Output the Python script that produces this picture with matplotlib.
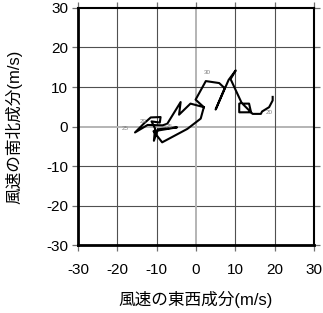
import matplotlib
matplotlib.use("Agg")
from matplotlib import pyplot as plt

plt.rcParams['font.family'] = ['Liberation Sans', 'Noto Sans CJK JP', 'DejaVu Sans']
plt.rcParams['axes.unicode_minus'] = False

# wind vector trajectory (m/s): east-west component, north-south component
u_wind = [2.0, -1.4, -4.3, -3.9, -7.3, -8.5, -12.3, -15.5, -13.2, -11.5,
          -9.0, -9.2, -11.3, -10.4, -10.7, -9.7, -4.8, -10.8, -8.6, -2.2,
          1.2, 2.0, -0.1, 2.5, 5.9, 7.3, 5.0, 8.3, 10.1, 8.8,
          11.6, 11.0, 11.0, 14.0, 13.5, 11.8, 14.4, 16.5, 16.8, 18.6,
          19.5, 19.5]
v_wind = [4.9, 5.8, 3.0, 6.2, 0.7, 0.3, 0.4, -1.5, 0.8, 2.3,
          2.4, 1.0, 1.3, -0.5, -3.6, -0.7, -0.2, -1.2, -4.0, -0.6,
          2.0, 4.9, 6.8, 11.5, 11.0, 9.7, 4.3, 11.8, 14.2, 12.0,
          6.0, 5.8, 3.6, 3.6, 5.8, 5.8, 3.2, 3.2, 3.8, 4.9,
          6.6, 7.5]

# small annotations along the trajectory
label_text = ['25', '20', '25', '30', '20']
label_u = [-18.1, -13.5, -6.9, 2.8, 18.7]
label_v = [-0.5, 1.3, 0.0, 13.7, 3.6]

ticks = [-30, -20, -10, 0, 10, 20, 30]

fig = plt.figure(figsize=(3.23, 3.13), dpi=100)
ax = fig.add_axes([0.2415, 0.217, 0.7305, 0.7575])

for t in ticks:
    c = '#b4b4b4' if t == 0 else '#505050'
    lw = 1.4 if t == 0 else 0.8
    if abs(t) != 30:
        ax.axvline(t, color=c, linewidth=lw, zorder=1)
        ax.axhline(t, color=c, linewidth=lw, zorder=1)

ax.plot(u_wind, v_wind, color='black', linewidth=1.5, zorder=3)
for s, x, y in zip(label_text, label_u, label_v):
    ax.text(x, y, s, fontsize=4.5, color='#808080', ha='center', va='center', zorder=4)

ax.set_xlim(-30, 30)
ax.set_ylim(-30, 30)
ax.set_xticks(ticks)
ax.set_yticks(ticks)
ax.tick_params(axis='both', direction='out', length=4, width=0.9, color='#707070',
               labelsize=11, top=True, right=True)
ax.tick_params(axis='x', pad=9)
ax.tick_params(axis='y', pad=3)

for side in ['left', 'bottom']:
    ax.spines[side].set_linewidth(2.0)
for side in ['top', 'right']:
    ax.spines[side].set_linewidth(1.5)

ax.set_xlabel('風速の東西成分(m/s)', fontsize=12, labelpad=10)
ax.set_ylabel('風速の南北成分(m/s)', fontsize=12, labelpad=17)

fig.savefig('out.png', dpi=100)
